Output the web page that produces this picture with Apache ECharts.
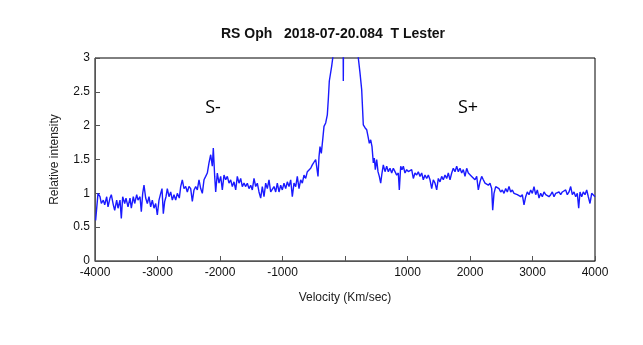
<!DOCTYPE html>
<html>
<head>
<meta charset="utf-8">
<script src="https://cdn.jsdelivr.net/npm/echarts@6/dist/echarts.min.js"></script>
<style>html,body{margin:0;padding:0;background:#fff}#c{width:643px;height:345px}</style>
</head>
<body>
<div id="c"></div>
<script>
const titleText = 'RS Oph   2018-07-20.084  T Lester';
const xName = 'Velocity (Km/sec)';
const yName = 'Relative intensity';
const xTicks = [-4000, -3000, -2000, -1000, 0, 1000, 2000, 3000, 4000];
const yTicks = [0, 0.5, 1, 1.5, 2, 2.5, 3];

const velocity = [
-3990,-3973,-3952,-3920,-3899,-3867,-3845,-3813,-3792,-3760,-3739,-3707,-3685,-3653,-3632,-3600,-3579,-3557,-3525,-3504,
-3472,-3440,-3419,-3387,-3365,-3333,-3312,-3280,-3259,-3237,-3216,-3189,-3163,-3136,-3109,-3083,-3056,-3029,-3003,-2976,
-2949,-2928,-2907,-2885,-2864,-2843,-2816,-2789,-2763,-2736,-2709,-2683,-2651,-2629,-2603,-2576,-2549,-2523,-2496,-2469,
-2443,-2416,-2389,-2363,-2336,-2309,-2283,-2256,-2229,-2203,-2176,-2149,-2123,-2107,-2085,-2069,-2043,-2016,-1989,-1963,
-1936,-1909,-1883,-1856,-1829,-1803,-1776,-1749,-1723,-1696,-1669,-1643,-1616,-1589,-1563,-1536,-1509,-1483,-1456,-1429,
-1403,-1376,-1349,-1323,-1296,-1269,-1243,-1216,-1189,-1163,-1136,-1109,-1083,-1056,-1029,-1003,-976,-949,-923,-896,
-869,-843,-816,-789,-763,-736,-709,-683,-656,-629,-603,-576,-549,-523,-496,-469,-453,-432,-416,-400,
-379,-357,-336,-309,-283,-267,-251,-229,-213,-192,
-170,-140,-110,-80,-55,-40,-27,-14,20,60,100,140,180,
213,240,267,293,320,347,373,389,411,432,453,469,485,507,528,549,571,592,613,640,
667,693,720,747,773,800,827,853,869,891,912,933,960,987,1013,1040,1067,1093,1120,1147,
1173,1200,1227,1253,1280,1307,1333,1360,1387,1413,1440,1467,1493,1520,1547,1573,1600,1627,1653,1680,
1707,1733,1760,1787,1813,1840,1867,1893,1920,1947,1973,2000,2027,2053,2080,2107,2133,2160,2187,2213,
2240,2267,2293,2320,2347,2363,2384,2411,2437,2464,2491,2517,2544,2571,2597,2624,2651,2677,2704,2731,
2757,2784,2811,2837,2864,2891,2917,2944,2971,2997,3024,3051,3077,3104,3131,3157,3184,3211,3237,3264,
3291,3317,3344,3371,3397,3424,3451,3477,3504,3531,3557,3584,3611,3637,3664,3691,3717,3739,3760,3787,
3813,3840,3867,3893,3920,3947,3973,4000
];
const intensity = [
0.60,0.60,1.00,0.95,0.85,0.90,0.83,0.95,0.80,0.93,0.98,0.83,0.75,0.90,0.78,0.90,0.63,0.95,0.85,0.93,
0.80,0.93,0.78,0.95,0.85,0.98,0.90,0.95,0.73,1.00,1.12,0.93,0.85,0.95,0.80,0.90,0.78,0.85,0.68,0.90,
1.00,1.07,0.70,0.88,0.95,1.07,0.95,1.02,0.90,0.98,0.90,1.00,0.93,1.10,1.20,1.07,1.10,1.02,1.10,1.07,
0.88,1.05,1.10,1.05,1.20,1.07,1.00,1.20,1.25,1.30,1.45,1.57,1.40,1.67,1.25,1.02,1.30,1.15,1.25,1.05,
1.27,1.20,1.25,1.15,1.20,1.10,1.17,1.05,1.25,1.15,1.22,1.10,1.15,1.10,1.15,1.07,1.12,1.05,1.22,1.10,
1.15,1.02,0.93,1.10,0.95,1.15,1.07,1.20,1.02,1.00,1.10,1.02,1.15,1.02,1.12,1.05,1.15,1.07,1.17,1.10,
1.20,0.95,1.15,1.10,1.25,1.07,1.20,1.15,1.27,1.22,1.32,1.30,1.37,1.42,1.42,1.50,1.52,1.25,1.54,1.69,
1.59,1.79,1.99,2.04,2.16,2.39,2.66,2.68,2.88,3.03,
3.4,3.9,4.4,4.9,5.2,5.3,2.66,5.3,5.4,5.1,4.6,4.0,3.5,
3.00,2.78,2.53,2.01,1.97,1.94,1.82,1.74,1.79,1.69,1.45,1.52,1.35,1.50,1.32,1.25,1.15,1.30,1.42,1.32,
1.40,1.32,1.37,1.30,1.37,1.32,1.27,1.30,1.05,1.40,1.35,1.40,1.30,1.35,1.32,1.30,1.35,1.22,1.30,1.27,
1.32,1.25,1.30,1.20,1.27,1.22,1.27,1.20,1.07,1.20,1.15,1.05,1.22,1.17,1.25,1.20,1.27,1.22,1.30,1.20,
1.30,1.37,1.32,1.40,1.32,1.37,1.30,1.35,1.25,1.37,1.30,1.32,1.25,1.27,1.20,1.25,1.05,1.17,1.25,1.20,
1.15,1.17,1.12,1.15,1.07,0.75,1.00,1.10,1.12,1.07,1.02,1.05,1.00,1.07,1.02,1.10,1.02,1.05,1.00,1.02,
0.98,1.00,0.95,0.98,0.83,0.95,1.02,0.98,1.05,1.00,1.10,0.98,1.05,0.93,1.00,0.95,1.02,0.98,1.00,0.95,
0.98,1.02,0.95,1.00,0.98,1.02,0.98,1.02,1.00,1.05,0.98,1.02,1.10,0.98,1.02,0.95,1.00,0.78,1.02,0.95,
1.02,0.98,1.05,0.95,0.85,1.00,1.02,0.95
];
const annotations = [
  { name: 'S-', coord: [-2112, 2.26] },
  { name: 'S+', coord: [1968, 2.26] }
];

const data = velocity.map((v, i) => [v, intensity[i]]);
const chart = echarts.init(document.getElementById('c'), null, { renderer: 'canvas' });
const font = 'Liberation Sans, Arial, sans-serif';
chart.setOption({
  animation: false,
  backgroundColor: '#fff',
  title: {
    text: titleText,
    left: 328, top: 22, textAlign: 'center',
    textStyle: { fontFamily: font, fontSize: 14, fontWeight: 'bold', color: '#111' }
  },
  grid: { left: 95, right: 48, top: 58, bottom: 84, show: true, borderColor: '#000', borderWidth: 1, backgroundColor: 'transparent' },
  xAxis: {
    type: 'value', min: -4000, max: 4000, interval: 1000,
    name: xName, nameLocation: 'middle', nameGap: 31,
    nameTextStyle: { fontFamily: font, fontSize: 12, color: '#222' },
    axisLine: { show: true, onZero: false, lineStyle: { color: '#555', width: 1 } },
    axisTick: { show: true, inside: true, length: 5, lineStyle: { color: '#555' } },
    axisLabel: {
      fontFamily: font, fontSize: 12, color: '#111', margin: 6,
      formatter: v => (v === 0 ? '' : String(v))
    },
    splitLine: { show: false }
  },
  yAxis: {
    type: 'value', min: 0, max: 3, interval: 0.5,
    name: yName, nameLocation: 'middle', nameGap: 34,
    nameTextStyle: { fontFamily: font, fontSize: 12, color: '#222' },
    axisLine: { show: true, onZero: false, lineStyle: { color: '#555', width: 1 } },
    axisTick: { show: true, inside: true, length: 5, lineStyle: { color: '#555' } },
    axisLabel: { fontFamily: font, fontSize: 12, color: '#111', margin: 5,
      formatter: v => String(v) },
    splitLine: { show: false }
  },
  series: [{
    type: 'line',
    data: data,
    showSymbol: false,
    symbol: 'none',
    clip: true,
    lineStyle: { color: '#1a1aff', width: 1.4 },
    markPoint: {
      symbol: 'circle', symbolSize: 0,
      label: { show: true, formatter: p => p.name, fontFamily: 'Open Sans, Noto Sans, sans-serif', fontSize: 18, color: '#000', position: 'inside' },
      data: annotations
    }
  }]
});
</script>
</body>
</html>
